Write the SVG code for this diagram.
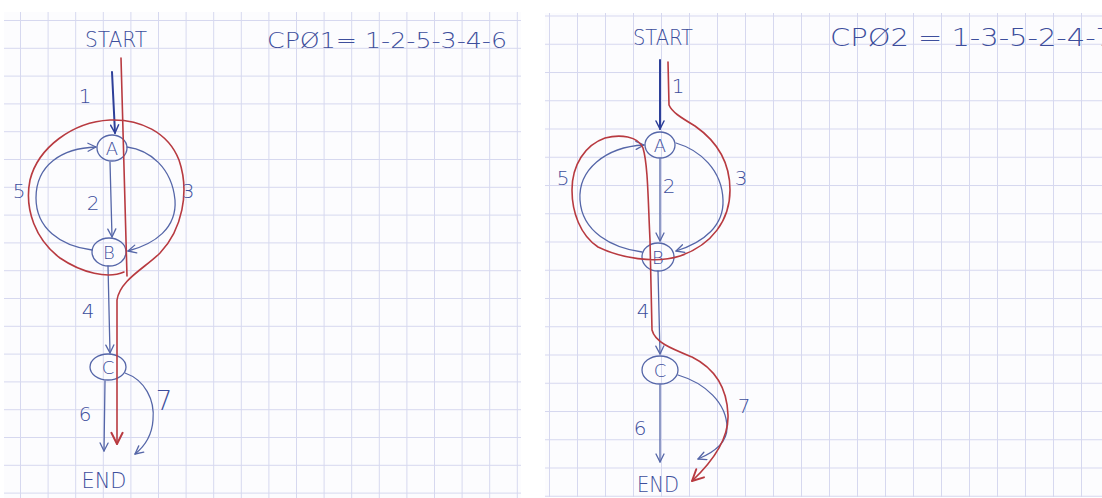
<svg xmlns="http://www.w3.org/2000/svg" width="1102" height="498" viewBox="0 0 1102 498">
<style>
.ink{fill:none;stroke:#5566a8;stroke-width:1.3;stroke-linecap:round;stroke-linejoin:round}
.ink1{fill:none;stroke:#2d3f99;stroke-width:2;stroke-linecap:round}
.red{fill:none;stroke:#b83a40;stroke-width:1.6;stroke-linecap:round;stroke-linejoin:round}
.node{fill:none;stroke:#5566a8;stroke-width:1.3}
.t{font-family:"DejaVu Sans","Liberation Sans",Arial,sans-serif;font-weight:200;fill:#3d4e9c;text-anchor:middle}
.lbl{font-size:20px}
.big{font-size:22px}
.nl{font-size:18px}
</style>
<defs>
<pattern id="gridL" x="20" y="20" width="27.6" height="27.8" patternUnits="userSpaceOnUse">
<rect width="1" height="27.8" fill="#d6d8ef"/><rect width="27.6" height="1" fill="#d6d8ef"/>
</pattern>
<pattern id="gridR" x="549" y="15.5" width="28" height="28.25" patternUnits="userSpaceOnUse">
<rect width="1" height="28.25" fill="#d6d8ef"/><rect width="28" height="1" fill="#d6d8ef"/>
</pattern>
<marker id="ab" viewBox="0 0 10 10" refX="9" refY="5" markerWidth="10" markerHeight="10" markerUnits="userSpaceOnUse" orient="auto">
<path d="M1,1 L9,5 L1,9" fill="none" stroke="#5566a8" stroke-width="1.3" stroke-linecap="round" stroke-linejoin="round"/>
</marker>
<marker id="ad" viewBox="0 0 10 10" refX="9" refY="5" markerWidth="10" markerHeight="10" markerUnits="userSpaceOnUse" orient="auto">
<path d="M1,1 L9,5 L1,9" fill="none" stroke="#2d3f99" stroke-width="1.5" stroke-linecap="round" stroke-linejoin="round"/>
</marker>
<marker id="ar" viewBox="0 0 10 10" refX="9" refY="5" markerWidth="14" markerHeight="14" markerUnits="userSpaceOnUse" orient="auto">
<path d="M1,1 L9,5 L1,9" fill="none" stroke="#b83a40" stroke-width="1.4" stroke-linecap="round" stroke-linejoin="round"/>
</marker>
</defs>

<rect width="1102" height="498" fill="#ffffff"/>
<g id="paper">
<rect x="4" y="12" width="517" height="486" fill="#fcfcfe"/>
<rect x="4" y="12" width="517" height="486" fill="url(#gridL)"/>
<rect x="545" y="13" width="557" height="484" fill="#fcfcfe"/>
<rect x="545" y="13" width="557" height="484" fill="url(#gridR)"/>
</g>

<!-- LEFT diagram -->
<g id="left-titles">
<text class="t big" x="116" y="47" textLength="62" lengthAdjust="spacingAndGlyphs">START</text>
<text class="t big" x="387" y="48" textLength="240" lengthAdjust="spacingAndGlyphs">CPØ1= 1-2-5-3-4-6</text>
<text class="t big" x="104" y="488" textLength="45" lengthAdjust="spacingAndGlyphs">END</text>
</g>
<g id="L-A"><ellipse class="node" cx="112" cy="148" rx="15" ry="13"/><text class="t nl" x="112" y="155">A</text></g>
<g id="L-B"><ellipse class="node" cx="109" cy="252" rx="17" ry="14"/><text class="t nl" x="109" y="259">B</text></g>
<g id="L-C"><ellipse class="node" cx="108" cy="367" rx="18" ry="13"/><text class="t nl" x="108" y="374">C</text></g>

<g id="L-connectors">
<path class="ink1" d="M112,72 L115,133" marker-end="url(#ad)"/>
<path class="ink" d="M110,162 L112,237" marker-end="url(#ab)"/>
<path class="ink" d="M127,147 C150,150 172,168 175,200 C177,228 155,244 128,251" marker-end="url(#ab)"/>
<path class="ink" d="M92,250 C60,246 36,228 36,198 C36,165 62,148 96,147" marker-end="url(#ab)"/>
<path class="ink" d="M108,266 L110,353" marker-end="url(#ab)"/>
<path class="ink" d="M105,381 L104,451" marker-end="url(#ab)"/>
<path class="ink" d="M125,373 C145,380 155,400 153,420 C152,435 145,446 135,454" marker-end="url(#ab)"/>
<path class="red" d="M121,58 L127,276"/>
<path class="red" d="M124,272 C108,279 82,273 60,258 C36,240 24,210 30,180 C38,148 72,122 110,120 C140,119 168,132 179,160 C190,192 182,230 160,253 C145,268 120,280 117,300 L117,444" marker-end="url(#ar)"/>
</g>
<g id="L-labels">
<text class="t lbl" x="85" y="103">1</text>
<text class="t lbl" x="93" y="210">2</text>
<text class="t lbl" x="188" y="198">3</text>
<text class="t lbl" x="19" y="198">5</text>
<text class="t lbl" x="88" y="318">4</text>
<text class="t lbl" x="85" y="421">6</text>
<text class="t" style="font-size:26px" x="164" y="410">7</text>
</g>

<!-- RIGHT diagram -->
<g id="right-titles">
<text class="t big" x="663" y="45" textLength="60" lengthAdjust="spacingAndGlyphs">START</text>
<text class="t" style="font-size:25px;text-anchor:start" x="830" y="46" textLength="284" lengthAdjust="spacingAndGlyphs">CPØ2 = 1-3-5-2-4-7</text>
<text class="t big" x="658" y="492" textLength="42" lengthAdjust="spacingAndGlyphs">END</text>
</g>
<g id="R-A"><ellipse class="node" cx="660" cy="145" rx="15" ry="13"/><text class="t nl" x="660" y="152">A</text></g>
<g id="R-B"><ellipse class="node" cx="658" cy="257" rx="16" ry="14"/><text class="t nl" x="658" y="264">B</text></g>
<g id="R-C"><ellipse class="node" cx="660" cy="370" rx="18" ry="14"/><text class="t nl" x="660" y="377">C</text></g>

<g id="R-connectors">
<path class="ink1" d="M660,60 L660,129" marker-end="url(#ad)"/>
<path class="ink" d="M660,159 L660,241" marker-end="url(#ab)"/>
<path class="ink" d="M676,143 C700,150 722,170 723,200 C724,225 705,242 676,251" marker-end="url(#ab)"/>
<path class="ink" d="M642,252 C612,248 582,232 580,200 C578,170 605,147 644,145" marker-end="url(#ab)"/>
<path class="ink" d="M658,271 L660,354" marker-end="url(#ab)"/>
<path class="ink" d="M660,385 L660,462" marker-end="url(#ab)"/>
<path class="ink" d="M678,375 C705,383 727,403 727,428 C727,443 715,452 698,459" marker-end="url(#ab)"/>
<path class="red" d="M668,62 L669,105 C672,112 680,117 695,126 C715,140 730,160 730,190 C730,220 712,245 680,256 C655,264 620,258 598,247 C580,235 572,212 572,190 C572,165 585,145 605,138 C620,134 638,136 643,148 C648,165 648,200 650,240 L652,330 C655,342 670,348 692,357 C712,367 727,385 728,415 C729,440 712,462 692,481" marker-end="url(#ar)"/>
</g>
<g id="R-labels">
<text class="t lbl" x="678" y="93">1</text>
<text class="t lbl" x="669" y="193">2</text>
<text class="t lbl" x="741" y="185">3</text>
<text class="t lbl" x="563" y="185">5</text>
<text class="t lbl" x="643" y="318">4</text>
<text class="t lbl" x="640" y="435">6</text>
<text class="t lbl" x="744" y="413">7</text>
</g>
</svg>
